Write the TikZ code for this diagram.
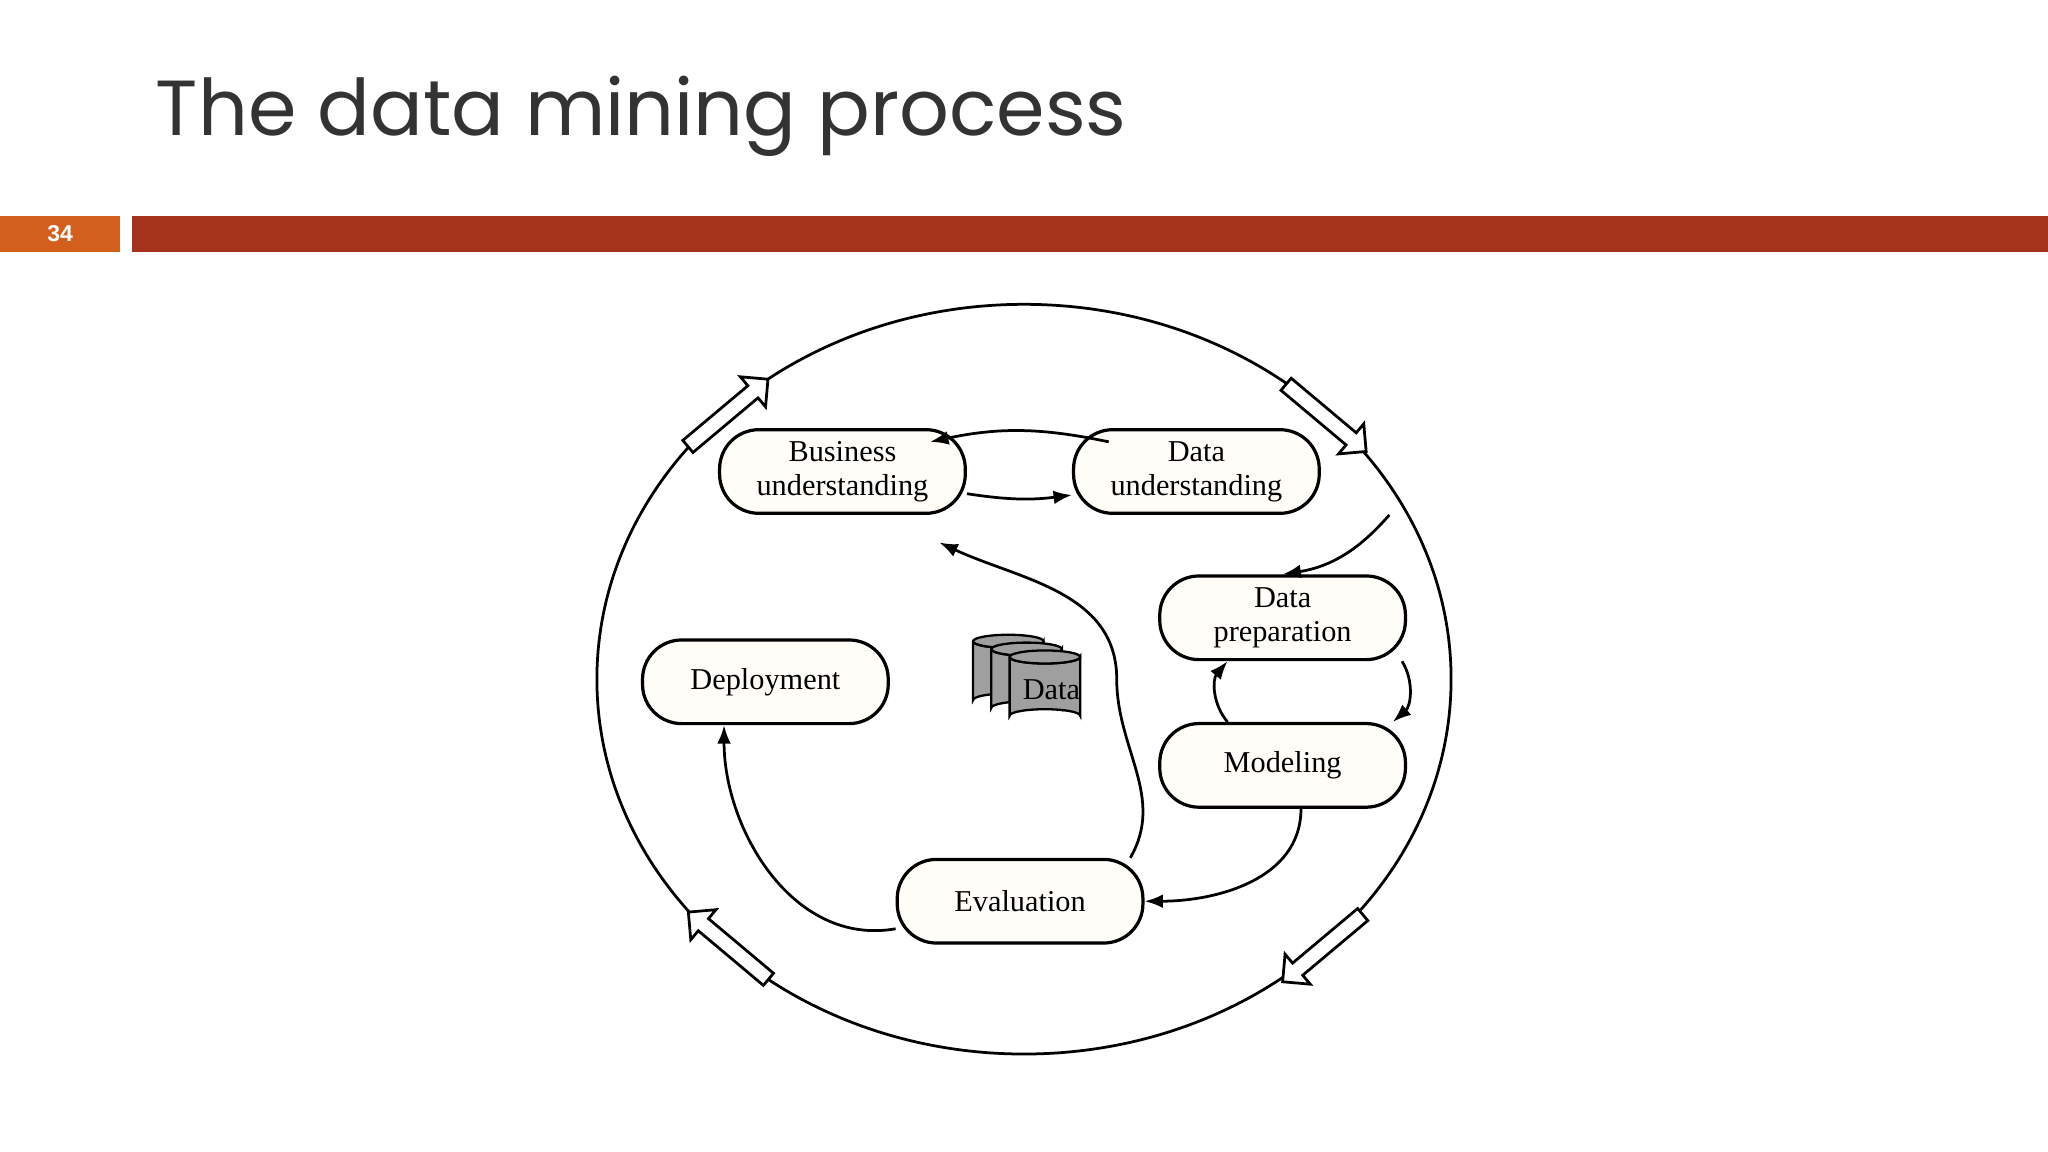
\documentclass[tikz,border=0pt]{standalone}
\usepackage{fontspec}
\setmainfont{Liberation Serif}
\newfontfamily\titlefont{Poppins}
\newfontfamily\numfont{Liberation Sans}
\usetikzlibrary{shapes.arrows,arrows.meta}
\definecolor{barred}{HTML}{A5321A}
\definecolor{barorange}{HTML}{D35F1E}
\definecolor{phasefill}{HTML}{FEFDF8}

\begin{document}
\begin{tikzpicture}[
  x=0.01cm, y=-0.01cm, thick,
  phase/.style={
    draw, rounded corners=0.3cm, fill=phasefill, align=center,
    minimum width=1.88cm, minimum height=0.64cm, inner sep=0pt,
    font=\fontsize{6.6}{7.4}\selectfont, line width=0.7pt
  },
  flow/.style={-{Latex[length=4pt,width=3pt]}, line width=0.6pt},
  cyclearrow/.style={
    draw, single arrow, fill=white, line width=0.6pt,
    minimum height=0.8cm, minimum width=0.3cm,
    single arrow head extend=0.06cm, inner sep=0.03cm
  },
  drum/.style={fill=gray!75, draw, line width=0.5pt}
]
  \useasboundingbox (0,0) rectangle (1568,882);

  % header
  \node[anchor=base west, inner sep=0pt, font=\titlefont\fontsize{17}{20}\selectfont,
    text=black!80] (title) at (118,104) {The data mining process};
  \fill[barorange] (0,165) rectangle (92,193);
  \fill[barred] (101,165) rectangle (1568,193);
  \node[text=white, font=\numfont\bfseries\fontsize{5}{6}\selectfont] (page) at (46,179) {34};

  % outer cycle
  \draw[line width=0.6pt] (784,520) ellipse [x radius=327, y radius=287];
  \node[cyclearrow, rotate=40] (cyc-tl) at (555,318) {};
  \node[cyclearrow, rotate=-40] (cyc-tr) at (1013,318) {};
  \node[cyclearrow, rotate=-140] (cyc-br) at (1015,724) {};
  \node[cyclearrow, rotate=140] (cyc-bl) at (560,726) {};

  % phases
  \node[phase] (bus) at (645,361) {Business\\understanding};
  \node[phase] (dund) at (916,361) {Data\\understanding};
  \node[phase] (prep) at (982,473) {Data\\preparation};
  \node[phase] (deploy) at (586,522) {Deployment};
  \node[phase] (model) at (982,586) {Modeling};
  \node[phase] (eval) at (781,690) {Evaluation};

  % data store
  \foreach \dx/\dy in {0/0, 14/6, 28/12} {
    \draw[drum] (745+\dx,491+\dy) -- (745+\dx,536+\dy)
      arc[start angle=180, end angle=360, x radius=27, y radius=5]
      -- (799+\dx,491+\dy)
      arc[start angle=0, end angle=180, x radius=27, y radius=5];
    \draw[drum] (772+\dx,491+\dy) ellipse [x radius=27, y radius=5];
  }
  \node[font=\fontsize{6.6}{7.4}\selectfont] (data) at (805,528) {Data};

  % transitions
  \draw[flow] (bus.east |- 0,378) to[bend right=8] (dund.west |- 0,379);
  \draw[flow] ([xshift=8pt,yshift=-3pt]dund.north west) to[bend right=12] ([xshift=-8pt,yshift=-3pt]bus.north east);
  \draw[flow] ([xshift=42]dund.south) to[bend left=20] (prep.north);
  \draw[flow] ([xshift=26]prep.south) to[bend left=40] ([xshift=24]model.north);
  \draw[flow] ([xshift=-12]model.north) to[bend left=40] ([xshift=-12]prep.south);
  \draw[flow] ([xshift=4]model.south) to[out=-90, in=0] (eval.east);
  \draw[flow] ([yshift=-6]eval.west) to[out=190, in=-90] ([xshift=-9]deploy.south);
  \draw[flow] ([xshift=24]eval.north) to[out=60, in=-90] (855,520)
    to[out=90, in=-25] ([xshift=-6pt,yshift=-6]bus.south east);
\end{tikzpicture}
\end{document}
